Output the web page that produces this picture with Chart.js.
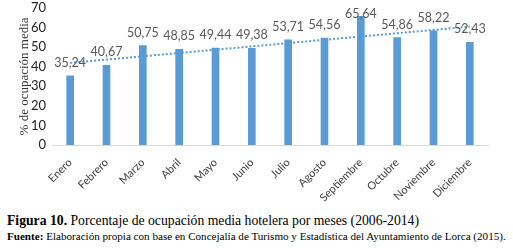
<!doctype html>
<html lang="es">
<head>
<meta charset="utf-8">
<title>Ocupacion hotelera</title>
<script src="https://cdn.jsdelivr.net/npm/chart.js@4.4.0/dist/chart.umd.min.js"></script>
<style>
  body { margin: 0; background: #fff; }
  #wrap { position: relative; width: 513px; height: 248px; overflow: hidden; }
  #chart { position: absolute; left: 0; top: -6px; }
  .cap { position: absolute; left: 7px; font-family: "Liberation Serif", "DejaVu Serif", serif; color: #000; white-space: nowrap; }
  #fig { top: 213px; font-size: 13.7px; }
  #src { top: 230px; font-size: 11.1px; }
</style>
</head>
<body>
<div id="wrap">
  <canvas id="chart" width="513" height="218"></canvas>
  <div class="cap" id="fig"><b>Figura 10.</b> Porcentaje de ocupación media hotelera por meses (2006-2014)</div>
  <div class="cap" id="src"><b>Fuente:</b> Elaboración propia con base en Concejalía de Turismo y Estadística del Ayuntamiento de Lorca (2015).</div>
</div>

<script>
// months and average occupancy (%)
var months = ["Enero", "Febrero", "Marzo", "Abril", "Mayo", "Junio", "Julio",
              "Agosto", "Septiembre", "Octubre", "Noviembre", "Diciembre"];
var occupancy = [35.24, 40.67, 50.75, 48.85, 49.44, 49.38, 53.71,
                 54.56, 65.64, 54.86, 58.22, 52.43];
// dotted trend line, ends
var trend = [41.9, null, null, null, null, null, null, null, null, null, null, 60.4];
var yTicks = [0, 10, 20, 30, 40, 50, 60, 70];

// value labels above the bars, comma decimals, kept inside the plot
var barLabels = {
  id: 'barLabels',
  afterDatasetsDraw: function(chart) {
    var ctx = chart.ctx;
    var meta = chart.getDatasetMeta(1);
    var minY = chart.chartArea.top + 6;
    ctx.save();
    ctx.font = '12.5px Lato, "Open Sans", sans-serif';
    ctx.fillStyle = '#595959';
    ctx.textAlign = 'center';
    ctx.textBaseline = 'middle';
    meta.data.forEach(function(bar, i) {
      var y = Math.max(bar.y - 13, minY);
      ctx.fillText(occupancy[i].toFixed(2).replace('.', ','), bar.x, y);
    });
    ctx.restore();
  }
};

var ctx = document.getElementById('chart').getContext('2d');
var chart = new Chart(ctx, {
  type: 'bar',
  data: {
    labels: months,
    datasets: [{
      type: 'line',
      data: trend,
      spanGaps: true,
      borderColor: '#5B9BD5',
      borderWidth: 2,
      borderDash: [2, 2],
      pointRadius: 0,
      fill: false,
      order: 0
    }, {
      data: occupancy,
      backgroundColor: '#5B9BD5',
      barThickness: 7,
      order: 1
    }]
  },
  options: {
    responsive: false,
    animation: false,
    layout: { padding: { top: 0, right: 25, left: 17, bottom: 0 } },
    plugins: {
      legend: { display: false },
      tooltip: { enabled: false }
    },
    scales: {
      x: {
        grid: { display: false },
        border: { color: '#d9d9d9' },
        ticks: {
          maxRotation: 45, minRotation: 45,
          color: '#404040',
          font: { family: 'Lato, "Open Sans", sans-serif', size: 11 }
        },
        afterFit: function(s) { s.height = 67; }
      },
      y: {
        min: 0, max: 70,
        afterBuildTicks: function(s) { s.ticks = yTicks.map(function(v) { return { value: v }; }); },
        grid: { display: false, drawTicks: false },
        border: { display: false },
        ticks: {
          color: '#222',
          padding: 6,
          font: { family: 'Lato, "Open Sans", sans-serif', size: 13 }
        },
        title: {
          display: true,
          text: '% de ocupación media',
          color: '#333',
          padding: 0,
          font: { family: '"Liberation Serif", serif', size: 13 }
        },
        afterFit: function(s) { s.width = 35; }
      }
    }
  },
  plugins: [barLabels]
});
</script>
</body>
</html>
